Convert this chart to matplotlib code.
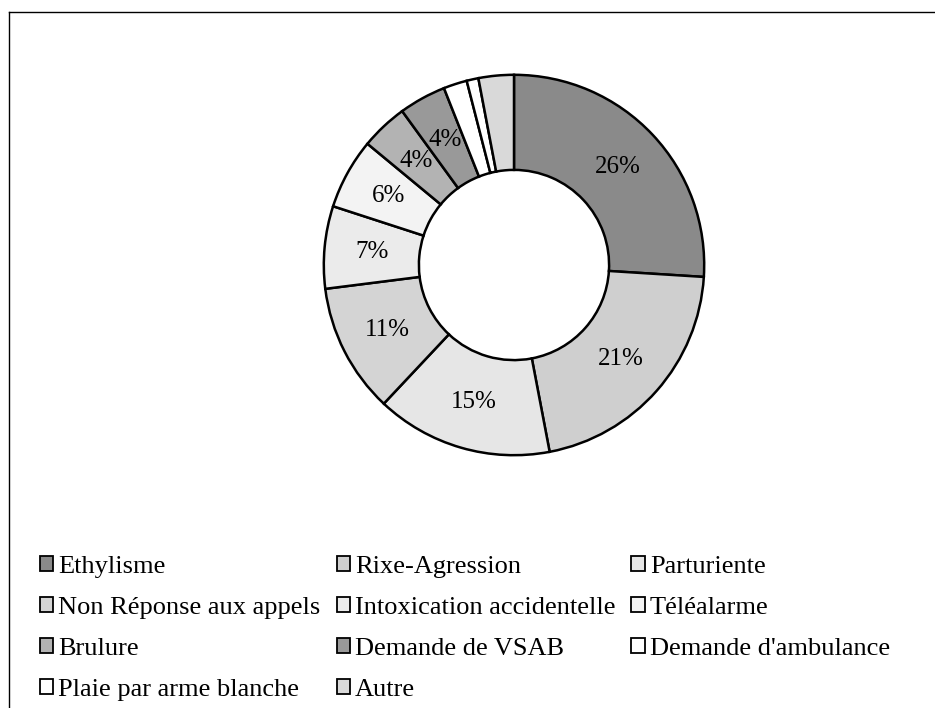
import matplotlib

matplotlib.use("Agg")

import matplotlib.pyplot as plt
from matplotlib.lines import Line2D
from matplotlib.patches import Patch

plt.rcParams["font.family"] = ["Liberation Serif", "DejaVu Serif"]

# Data in the order of the series (clockwise from 12 o'clock)
categories = [
    "Ethylisme",
    "Rixe-Agression",
    "Parturiente",
    "Non Réponse aux appels",
    "Intoxication accidentelle",
    "Téléalarme",
    "Brulure",
    "Demande de VSAB",
    "Demande d'ambulance",
    "Plaie par arme blanche",
    "Autre",
]
shares = [26, 21, 15, 11, 7, 6, 4, 4, 2, 1, 3]
fills = [
    "#8a8a8a", "#cfcfcf", "#e6e6e6", "#d4d4d4", "#ebebeb", "#f3f3f3",
    "#b3b3b3", "#999999", "#ffffff", "#ffffff", "#d9d9d9",
]

fig = plt.figure(figsize=(9.35, 7.08), dpi=100)

# donut centre ~ (514, 265) px, outer radius ~194 px
ax = fig.add_axes([320 / 935, (708 - 459) / 708, 388 / 935, 388 / 708])
wedges, _, pct_texts = ax.pie(
    shares,
    colors=fills,
    startangle=90,
    counterclock=False,
    radius=1.0,
    autopct=lambda p: f"{p:.0f}%" if p >= 4 else "",
    pctdistance=0.75,
    wedgeprops=dict(width=0.5, edgecolor="black", linewidth=1.8),
    textprops=dict(fontsize=18),
)
ax.set_xlim(-1.02, 1.02)
ax.set_ylim(-1.02, 1.02)
ax.set_aspect("equal")
ax.axis("off")

# legend filled row by row like the original (3 columns)
order = [0, 3, 6, 9, 1, 4, 7, 10, 2, 5, 8]
handles = [
    Patch(facecolor=fills[i], edgecolor="black", linewidth=1.3, label=categories[i])
    for i in order
]
fig.legend(
    handles=handles,
    loc="upper left",
    bbox_to_anchor=(40 / 935, 1 - 556 / 708),
    ncol=3,
    frameon=False,
    fontsize=19,
    handlelength=0.5,
    handleheight=0.5,
    handletextpad=0.2,
    columnspacing=0.6,
    labelspacing=0.72,
    borderaxespad=0,
    borderpad=0,
)

# partial frame from the scanned page (top and left edges)
fig.add_artist(Line2D([9 / 935, 1.0], [1 - 12 / 708, 1 - 12 / 708], color="black", linewidth=1.0))
fig.add_artist(Line2D([9 / 935, 9 / 935], [0.0, 1 - 12 / 708], color="black", linewidth=1.0))

fig.savefig("out.png", dpi=100)
